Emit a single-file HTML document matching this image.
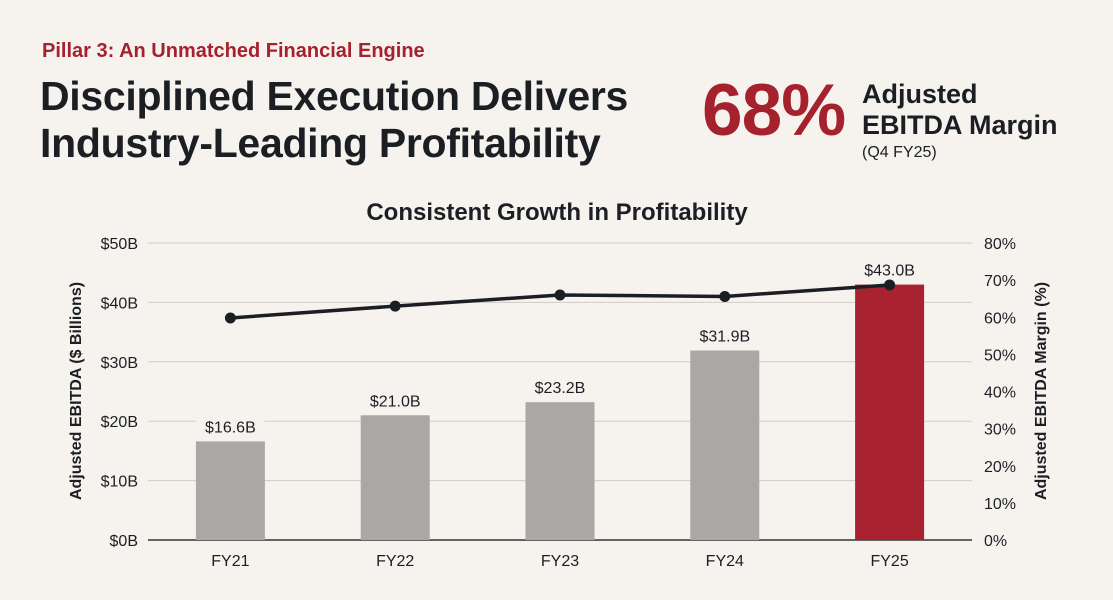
<!DOCTYPE html>
<html><head><meta charset="utf-8"><style>
html,body{margin:0;padding:0}
body{width:1113px;height:600px;background:#f6f3ef;font-family:"Liberation Sans",sans-serif;position:relative;overflow:hidden;color:#1b1f24}
.abs{position:absolute;white-space:nowrap}
</style></head><body>
<div class="abs" style="left:42px;top:40px;font-size:20px;font-weight:bold;color:#a6212e">Pillar 3: An Unmatched Financial Engine</div>
<div class="abs" style="left:40px;top:73px;font-size:41px;font-weight:bold;line-height:47px;letter-spacing:-0.3px">Disciplined Execution Delivers<br>Industry-Leading Profitability</div>
<div class="abs" style="left:702px;top:69px;font-size:73px;font-weight:bold;color:#a6212e;letter-spacing:-1px">68%</div>
<div class="abs" style="left:862px;top:79px;font-size:27px;font-weight:bold;line-height:31px">Adjusted<br>EBITDA Margin</div>
<div class="abs" style="left:862px;top:144px;font-size:16px">(Q4 FY25)</div>
<svg id="chart" width="1113" height="600" style="position:absolute;left:0;top:0" font-family="Liberation Sans, sans-serif"></svg>
<script>
const categories=["FY21","FY22","FY23","FY24","FY25"];
const ebitda=[16.6,21.0,23.2,31.9,43.0];
const ebitdaLabels=["$16.6B","$21.0B","$23.2B","$31.9B","$43.0B"];
const margin=[59.8,63.0,66.0,65.6,68.7];
const leftTicks=[0,10,20,30,40,50];
const rightTicks=[0,10,20,30,40,50,60,70,80];
const NS="http://www.w3.org/2000/svg";
const svg=document.getElementById('chart');
const X0=148,X1=972,Y0=540,Y1=243;
const band=(X1-X0)/categories.length;
const xc=i=>X0+band*(i+0.5);
const yL=v=>Y0-(v/50)*(Y0-Y1);
const yR=v=>Y0-(v/80)*(Y0-Y1);
function mk(t,a,txt){const e=document.createElementNS(NS,t);for(const k in a)e.setAttribute(k,a[k]);if(txt!=null)e.textContent=txt;svg.appendChild(e);return e;}
let t=mk('text',{x:557,y:220,'text-anchor':'middle','font-size':24,'font-weight':'bold',fill:'#1b1f24'},'Consistent Growth in Profitability');


leftTicks.forEach(v=>{
 const l=mk('line',{x1:X0,x2:X1,y1:yL(v),y2:yL(v),stroke:v===0?'#333':'#cfcbc6','stroke-width':v===0?1.5:1});
 
 
 const tx=mk('text',{x:138,y:yL(v)+6,'text-anchor':'end','font-size':16,fill:'#1b1f24'},'$'+v+'B');
 
 
});
rightTicks.forEach(v=>{
 const tx=mk('text',{x:984,y:yR(v)+6,'font-size':16,fill:'#1b1f24'},v+'%');
 
 
});
categories.forEach((c,i)=>{
 const w=69,h=Y0-yL(ebitda[i]);
 const r=mk('rect',{x:xc(i)-w/2,y:yL(ebitda[i]),width:w,height:h,fill:i===4?'#a8232f':'#aaa8a7'});
 
 
 const bg=mk('rect',{x:xc(i)-34,y:yL(ebitda[i])-26,width:68,height:20,fill:'#f6f3ef'});
 
 
 const lb=mk('text',{x:xc(i),y:yL(ebitda[i])-9,'text-anchor':'middle','font-size':16,fill:'#1b1f24'},ebitdaLabels[i]);
 
 
 const cl=mk('text',{x:xc(i),y:566,'text-anchor':'middle','font-size':16,fill:'#1b1f24'},c);
 
 
});
const pl=mk('polyline',{points:margin.map((m,i)=>xc(i)+','+yR(m)).join(' '),fill:'none',stroke:'#1b1f24','stroke-width':3.5});


margin.forEach((m,i)=>{
 const p=mk('circle',{cx:xc(i),cy:yR(m),r:5.5,fill:'#1b1f24'});
 
 
});
const ly=mk('text',{x:0,y:0,'text-anchor':'middle','font-size':16,'font-weight':'bold',fill:'#1b1f24',transform:'translate(81,391) rotate(-90)'},'Adjusted EBITDA ($ Billions)');


const ry=mk('text',{x:0,y:0,'text-anchor':'middle','font-size':16,'font-weight':'bold',fill:'#1b1f24',transform:'translate(1046,391) rotate(-90)'},'Adjusted EBITDA Margin (%)');


</script>
</body></html>
